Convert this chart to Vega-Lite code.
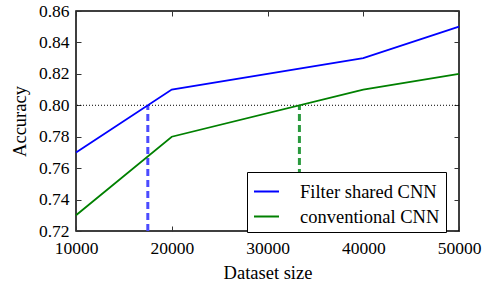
{
  "$schema": "https://vega.github.io/schema/vega-lite/v6.json",
  "width": 383,
  "height": 220,
  "autosize": {"type": "none"},
  "padding": {"left": 76, "top": 11, "right": 25, "bottom": 53},
  "background": "white",
  "config": {
    "font": "Liberation Serif",
    "view": {"stroke": "black", "strokeWidth": 1.5},
    "axis": {"grid": false, "domain": false, "labelFont": "Liberation Serif", "titleFont": "Liberation Serif", "labelColor": "black", "titleColor": "black", "tickColor": "#333", "labelFontSize": 17.5, "titleFontSize": 18.5, "titleFontWeight": "normal", "labelFlush": false, "labelOverlap": false},
    "legend": {"labelFont": "Liberation Serif", "labelFontSize": 18.5, "labelColor": "black"}
  },
  "datasets": {
    "lines": [
      {"size": 10000, "acc": 0.77, "model": "Filter shared CNN"},
      {"size": 20000, "acc": 0.81, "model": "Filter shared CNN"},
      {"size": 40000, "acc": 0.83, "model": "Filter shared CNN"},
      {"size": 50000, "acc": 0.85, "model": "Filter shared CNN"},
      {"size": 10000, "acc": 0.73, "model": "conventional CNN"},
      {"size": 20000, "acc": 0.78, "model": "conventional CNN"},
      {"size": 40000, "acc": 0.81, "model": "conventional CNN"},
      {"size": 50000, "acc": 0.82, "model": "conventional CNN"}
    ],
    "cross": [
      {"size": 17500, "lo": 0.72, "hi": 0.80, "model": "Filter shared CNN"},
      {"size": 33333, "lo": 0.72, "hi": 0.80, "model": "conventional CNN"}
    ]
  },
  "layer": [
    {
      "data": {"name": "lines"},
      "mark": {"type": "point", "opacity": 0},
      "encoding": {
        "x": {"field": "size", "type": "quantitative", "scale": {"domain": [10000, 50000], "nice": false},
              "axis": {"orient": "top", "labels": false, "title": null, "tickSize": -5, "values": [10000, 20000, 30000, 40000, 50000]}},
        "y": {"field": "acc", "type": "quantitative", "scale": {"domain": [0.72, 0.86], "nice": false, "zero": false},
              "axis": {"orient": "right", "labels": false, "title": null, "tickSize": -5, "values": [0.72, 0.74, 0.76, 0.78, 0.8, 0.82, 0.84, 0.86]}}
      }
    },
    {
      "data": {"values": [{"y": 0.8}]},
      "mark": {"type": "rule", "color": "black", "strokeWidth": 1, "strokeDash": [1, 2]},
      "encoding": {"y": {"field": "y", "type": "quantitative", "axis": null}}
    },
    {
      "data": {"name": "cross"},
      "transform": [{"filter": "datum.model == 'Filter shared CNN'"}],
      "mark": {"type": "rule", "color": "#4b4bff", "strokeWidth": 3, "strokeDash": [7, 4]},
      "encoding": {
        "x": {"field": "size", "type": "quantitative", "axis": null},
        "y": {"field": "lo", "type": "quantitative", "axis": null},
        "y2": {"field": "hi"}
      }
    },
    {
      "data": {"name": "cross"},
      "transform": [{"filter": "datum.model == 'conventional CNN'"}],
      "mark": {"type": "rule", "color": "#2a9a3e", "strokeWidth": 3, "strokeDash": [7, 4]},
      "encoding": {
        "x": {"field": "size", "type": "quantitative", "axis": null},
        "y": {"field": "lo", "type": "quantitative", "axis": null},
        "y2": {"field": "hi"}
      }
    },
    {
      "data": {"name": "lines"},
      "mark": {"type": "line", "strokeWidth": 1.8},
      "encoding": {
        "x": {"field": "size", "type": "quantitative",
              "axis": {"orient": "bottom", "title": "Dataset size", "format": "d", "tickSize": -5, "labelPadding": 13, "titlePadding": 7, "values": [10000, 20000, 30000, 40000, 50000]}},
        "y": {"field": "acc", "type": "quantitative",
              "axis": {"orient": "left", "title": "Accuracy", "format": ".2f", "tickSize": -5, "labelPadding": 12, "titlePadding": 9, "values": [0.72, 0.74, 0.76, 0.78, 0.8, 0.82, 0.84, 0.86]}},
        "color": {"field": "model", "type": "nominal",
                  "scale": {"domain": ["Filter shared CNN", "conventional CNN"], "range": ["#0000ff", "#008000"]},
                  "legend": {"title": null, "orient": "none", "legendX": 171, "legendY": 161, "symbolType": "stroke", "symbolSize": 625, "symbolStrokeWidth": 2, "strokeColor": "black", "fillColor": "white", "padding": 6, "rowPadding": 2, "cornerRadius": 0, "labelOffset": 20}}
      }
    }
  ],
  "resolve": {"axis": {"x": "independent", "y": "independent"}}
}
